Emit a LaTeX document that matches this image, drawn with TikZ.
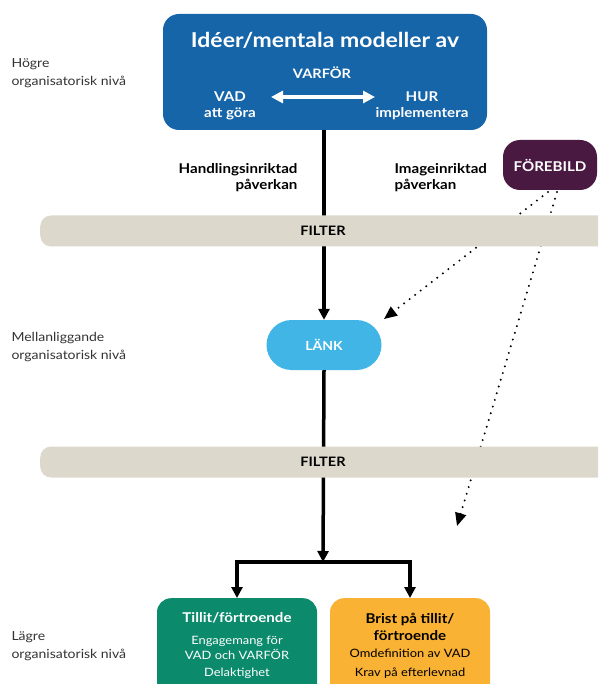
\documentclass[tikz,border=0pt]{standalone}
\usepackage{fontspec}
\setmainfont{Lato}[FakeStretch=1.12]
\usetikzlibrary{arrows.meta}
\definecolor{topblue}{HTML}{1565A8}
\definecolor{purp}{HTML}{4A1942}
\definecolor{lankblue}{HTML}{41B6E6}
\definecolor{bandgray}{HTML}{DCD8CC}
\definecolor{tgreen}{HTML}{0B8A6C}
\definecolor{torange}{HTML}{F9B233}
\definecolor{txtgray}{HTML}{333333}
\tikzset{
  box/.style={draw=none, rounded corners=#1, inner sep=0pt},
  band/.style={fill=bandgray, draw=none, rounded corners=11pt},
  lvl/.style={anchor=west, align=left, text=txtgray, font=\fontsize{12.5}{18.5}\selectfont},
  flow/.style={line width=3.5pt, black},
  tip/.style={-{Triangle[length=11pt,width=11pt]}},
  dots/.style={line width=2.2pt, line cap=round, dash pattern=on 0pt off 7pt, -{Triangle[length=13pt,width=11pt]}},
  btxt/.style={font=\bfseries\fontsize{13}{16}\selectfont},
  ptxt/.style={font=\bfseries\fontsize{13.5}{16}\selectfont},
}
\begin{document}
\begin{tikzpicture}[x=1pt,y=-1pt]
\useasboundingbox (0,0) rectangle (598,684);
\clip (0,0) rectangle (598,684);
% top box
\node[box=16pt, fill=topblue, minimum width=324pt, minimum height=116pt] (top) at (325,72) {};
\node[text=white, font=\bfseries\fontsize{20.5}{24}\selectfont] (title) at (325,40) {Idéer/mentala modeller av};
\node[text=white, btxt] (varfor) at (322,73) {VARFÖR};
\node[text=white, ptxt, align=center] (vad) at (230,106) {VAD\\att göra};
\node[text=white, ptxt, align=center] (hur) at (422,106) {HUR\\implementera};
\coordinate (al) at (271,97);
\coordinate (ar) at (375,97);
\draw[white, line width=3.5pt, {Triangle[length=12pt,width=12pt]}-{Triangle[length=12pt,width=12pt]}] (al) -- (ar);
% labels
\node[lvl] (hog) at (8,73) {Högre\\organisatorisk nivå};
\node[lvl] (mel) at (8,347) {Mellanliggande\\organisatorisk nivå};
\node[lvl] (lag) at (8,646) {Lägre\\organisatorisk nivå};
\node[ptxt, anchor=east, align=right] (hand) at (301,178) {Handlingsinriktad\\påverkan};
\node[ptxt, anchor=west, align=left] (img) at (391,178) {Imageinriktad\\påverkan};
% forebild
\node[box=17pt, fill=purp, minimum width=94pt, minimum height=50pt] (fb) at (550,165) {};
\node[text=white, ptxt] at (fb.center) {FÖREBILD};
% lank
\node[box=25pt, fill=lankblue, minimum width=115pt, minimum height=50pt] (lank) at (324,345) {};
\node[text=white, font=\bfseries\fontsize{12.5}{16}\selectfont] at (lank.center) {LÄNK};
% bottom boxes
\node[box=14pt, fill=tgreen, minimum width=160pt, minimum height=110pt, anchor=north] (green) at (237,598) {};
\node[box=14pt, fill=torange, minimum width=160pt, minimum height=110pt, anchor=north] (orange) at (410,598) {};
\node[text=white, ptxt] at (237,618) {Tillit/förtroende};
\node[text=white, align=center, font=\fontsize{11.5}{15.5}\selectfont] at (237,648) {Engagemang för\\VAD och VARFÖR};
\node[text=white, font=\fontsize{11.5}{14}\selectfont] at (237,673) {Delaktighet};
\node[text=black, align=center, font=\bfseries\fontsize{13.5}{17.5}\selectfont] at (410,627) {Brist på tillit/\\förtroende};
\node[text=black, font=\fontsize{11.5}{14}\selectfont] at (410,653) {Omdefinition av VAD};
\node[text=black, font=\fontsize{11.5}{14}\selectfont] at (410,673) {Krav på efterlevnad};
% connectors
\coordinate (j) at (323,562);
\coordinate (jl) at (237,562);
\coordinate (jr) at (410,562);
\draw[flow, tip] (top.south -| lank.north) -- (lank.north);
\draw[flow, tip] (lank.south) -- (j);
\draw[flow] ([xshift=-1.75pt]jl) -- ([xshift=1.75pt]jr);
\draw[flow, tip] ([yshift=-1.75pt]jl) -- (green.north);
\draw[flow, tip] ([yshift=-1.75pt]jr) -- (orange.north);
\coordinate (f1) at (548,192);
\coordinate (f2) at (557,192);
\coordinate (e1) at (384,319);
\coordinate (e2) at (457,526);
\draw[dots] (f1) -- (e1);
\draw[dots] (f2) -- (e2);
% filter bands
\node[band, minimum width=570pt, minimum height=31pt, anchor=west, inner sep=0pt] (band1) at (40,231) {};
\node[btxt] at (323,231) {FILTER};
\node[band, minimum width=570pt, minimum height=31pt, anchor=west, inner sep=0pt] (band2) at (40,462) {};
\node[btxt] at (323,462) {FILTER};
\end{tikzpicture}
\end{document}
